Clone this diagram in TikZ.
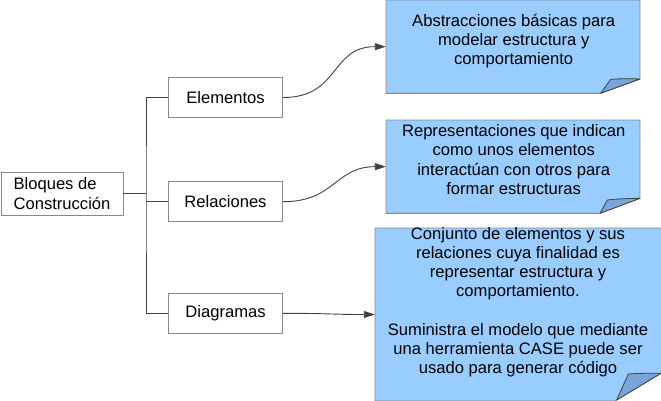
\documentclass[tikz,border=0pt]{standalone}
\usepackage{fontspec}
\setmainfont{Liberation Sans}
\usetikzlibrary{arrows.meta}
\definecolor{notefill}{HTML}{99CCFF}
\definecolor{foldfill}{HTML}{7BA4D8}
\definecolor{boxline}{HTML}{888888}
\definecolor{wire}{HTML}{404040}
\begin{document}
\begin{tikzpicture}[x=1pt,y=-1pt,
  every node/.style={font=\fontsize{16.6}{19.2}\selectfont, text=black},
  smallbox/.style={draw=boxline, line width=0.9pt, fill=white, inner sep=0pt, minimum width=114.4pt, minimum height=40.4pt},
  notebox/.style={inner sep=0pt},
  notetext/.style={inner sep=0pt, align=center},
  notepath/.style={fill=notefill, draw=boxline, line width=0.9pt},
  foldpath/.style={fill=foldfill, draw=black!75, line width=0.8pt, line join=round},
  tree/.style={draw=wire, line width=0.9pt},
  link/.style={draw=wire, line width=0.9pt, -{Triangle[length=11pt,width=7pt]}}
]
\useasboundingbox (0,0) rectangle (661,400);

% note shapes
\path[notepath] (386,0) -- (640,0) -- (640,79) -- (600.7,93.3) -- (386,93.3) -- cycle;
\path[foldpath] (600.7,93.3) -- (610.7,79.3) .. controls (621,78.6) and (631,78.6) .. (640,79) -- cycle;

\path[notepath] (386,120) -- (640,120) -- (640,198.3) -- (600,213.3) -- (386,213.3) -- cycle;
\path[foldpath] (600,213.3) -- (607.3,200) .. controls (618,198.8) and (629,198.4) .. (640,198.3) -- cycle;

\path[notepath] (375,228) -- (663,228) -- (663,372.1) -- (615,401) -- (375,401) -- cycle;
\path[foldpath] (616.7,400) -- (628.3,374) .. controls (639,373.2) and (650,373.2) .. (661,373.3) -- cycle;

% invisible note anchors
\node[notebox, minimum width=254pt, minimum height=93.3pt] (n1) at (513,46.65) {};
\node[notebox, minimum width=254pt, minimum height=93.3pt] (n2) at (513,166.65) {};
\node[notebox, minimum width=287pt, minimum height=173pt] (n3) at (518.5,314.5) {};

% note texts
\node[notetext] (t1) at (513.7,41.2) {Abstracciones básicas para\\modelar estructura y\\comportamiento};
\node[notetext] (t2) at (513.7,159.5) {Representaciones que indican\\como unos elementos\\interactúan con otros para\\formar estructuras};
\node[notetext] (t3) at (518,302.2) {Conjunto de elementos y sus\\relaciones cuya finalidad es\\representar estructura y\\comportamiento.\\[19.2pt]Suministra el modelo que mediante\\una herramienta CASE puede ser\\usado para generar código};

% left boxes
\node[smallbox, minimum width=122pt, minimum height=43pt, align=left] (bloq) at (62,193.5) {Bloques de\\Construcción};
\node[smallbox] (elem) at (225.5,97.5) {Elementos};
\node[smallbox] (rel) at (225.5,201.7) {Relaciones};
\node[smallbox] (diag) at (225.5,313.3) {Diagramas};

% tree
\coordinate (j) at (146,193.5);
\draw[tree] (bloq.east) -- (j);
\draw[tree] (elem.west) -| (j) |- (diag.west);
\draw[tree] (rel.west) -- (rel.west -| j);

% links
\draw[link] (elem.east) .. controls (340,97.5) and (330,46.65) .. (n1.west);
\draw[link] (rel.east) .. controls (335,201.7) and (335,166.65) .. (n2.west);
\draw[link] (diag.east) .. controls (330,313.3) and (330,314.5) .. (n3.west);
\end{tikzpicture}
\end{document}
